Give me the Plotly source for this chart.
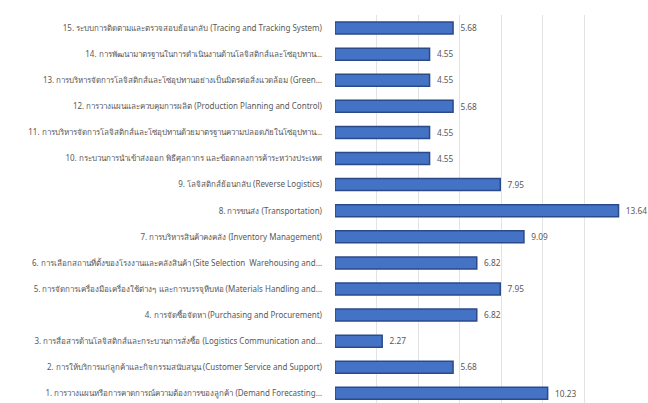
import plotly.graph_objects as go

# Logistics activity categories (bottom to top) and their percentage shares
categories = [
    "1. การวางแผนหรือการคาดการณ์ความต้องการของลูกค้า (Demand Forecasting…",
    "2. การให้บริการแก่ลูกค้าและกิจกรรมสนับสนุน (Customer Service and Support)",
    "3. การสื่อสารด้านโลจิสติกส์และกระบวนการสั่งซื้อ (Logistics Communication and…",
    "4. การจัดซื้อจัดหา (Purchasing and Procurement)",
    "5. การจัดการเครื่องมือเครื่องใช้ต่างๆ และการบรรจุหีบห่อ (Materials Handling and…",
    "6. การเลือกสถานที่ตั้งของโรงงานและคลังสินค้า (Site Selection  Warehousing and…",
    "7. การบริหารสินค้าคงคลัง (Inventory Management)",
    "8. การขนส่ง (Transportation)",
    "9. โลจิสติกส์ย้อนกลับ (Reverse Logistics)",
    "10. กระบวนการนำเข้าส่งออก พิธีศุลกากร และข้อตกลงการค้าระหว่างประเทศ",
    "11. การบริหารจัดการโลจิสติกส์และโซ่อุปทานด้วยมาตรฐานความปลอดภัยในโซ่อุปทาน…",
    "12. การวางแผนและควบคุมการผลิต (Production Planning and Control)",
    "13. การบริหารจัดการโลจิสติกส์และโซ่อุปทานอย่างเป็นมิตรต่อสิ่งแวดล้อม (Green…",
    "14. การพัฒนามาตรฐานในการดำเนินงานด้านโลจิสติกส์และโซ่อุปทาน…",
    "15. ระบบการติดตามและตรวจสอบย้อนกลับ (Tracing and Tracking System)",
]
values = [10.23, 5.68, 2.27, 6.82, 7.95, 6.82, 9.09, 13.64, 7.95, 4.55, 4.55, 5.68, 4.55, 4.55, 5.68]
x_ticks = [0, 2, 4, 6, 8, 10, 12, 14]

fig = go.Figure(
    go.Bar(
        x=values,
        y=categories,
        orientation="h",
        width=0.46,
        marker=dict(color="#4472C4", line=dict(color="#2B4A8A", width=1.5)),
        text=[f"  {v:.2f}" for v in values],
        textposition="outside",
        textfont=dict(size=9, color="#595959"),
        cliponaxis=False,
    )
)

fig.update_layout(
    width=648,
    height=403,
    margin=dict(l=335, r=22, t=15, b=0),
    paper_bgcolor="white",
    plot_bgcolor="white",
    showlegend=False,
    font=dict(family="Noto Sans, sans-serif", color="#595959"),
)
fig.update_xaxes(
    range=[0, 14],
    tickvals=x_ticks,
    showticklabels=False,
    showgrid=True,
    gridcolor="#E3E3E3",
    gridwidth=1,
    zeroline=False,
    showline=False,
)
fig.update_yaxes(
    type="category",
    range=[-0.37, 14.5],
    tickfont=dict(size=8, color="#595959"),
    showgrid=False,
    showline=False,
    ticks="",
    ticklabelstandoff=12,
    automargin=False,
)

fig.write_html("out.html")
